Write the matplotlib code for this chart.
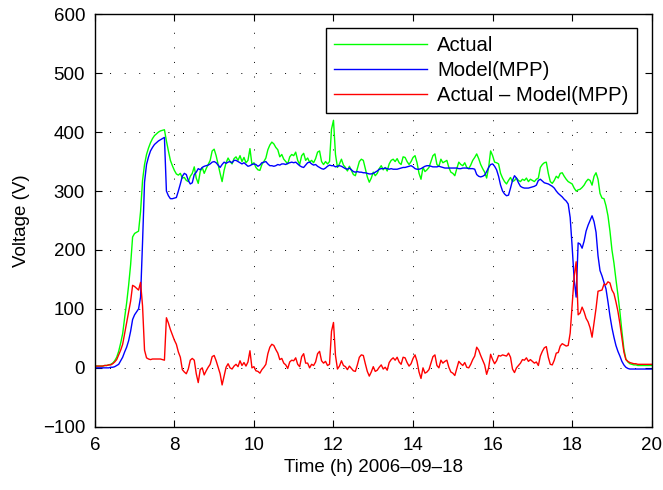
import numpy as np
import matplotlib
matplotlib.use("Agg")
import matplotlib.pyplot as plt

# time axis: 6:00 to 20:00 in 0.05 h steps
t_start, t_end, t_step = 6.0, 20.0, 0.05

# measured array voltage (V), one row per hour
actual = [
    # 6
    3, 3, 3, 3, 3, 4, 4, 5, 6, 8, 12, 18, 28, 42, 58, 85, 110, 140, 175, 222,
    # 7
    228, 230, 232, 265, 318, 345, 362, 373, 382, 389, 394, 397, 400, 402, 403, 404, 385, 368, 352, 343,
    # 8
    335, 329, 327, 330, 322, 323, 318, 316, 325, 330, 341, 322, 313, 333, 340, 330, 338, 345, 352, 368,
    # 9
    371, 360, 345, 330, 316, 335, 348, 356, 350, 346, 355, 358, 352, 360, 350, 357, 348, 352, 372, 345,
    # 10
    348, 340, 336, 335, 345, 350, 356, 370, 378, 383, 380, 374, 370, 358, 362, 354, 350, 346, 358, 362,
    # 11
    360, 366, 352, 345, 360, 364, 352, 356, 349, 352, 348, 355, 366, 368, 350, 345, 350, 346, 350, 405,
    # 12
    420, 362, 340, 346, 354, 344, 340, 334, 342, 335, 328, 326, 338, 350, 354, 352, 338, 324, 315, 322,
    # 13
    332, 326, 330, 338, 343, 336, 340, 334, 346, 352, 354, 350, 355, 348, 345, 358, 357, 350, 345, 350,
    # 14
    357, 360, 348, 330, 320, 340, 333, 336, 340, 350, 360, 363, 345, 342, 354, 348, 350, 352, 340, 332,
    # 15
    330, 326, 338, 349, 345, 343, 348, 340, 338, 344, 352, 357, 363, 355, 345, 338, 332, 322, 340, 368,
    # 16
    360, 349, 348, 346, 330, 322, 316, 312, 318, 323, 316, 318, 322, 318, 316, 320, 318, 322, 316, 320,
    # 17
    318, 316, 320, 322, 340, 345, 348, 349, 330, 316, 313, 318, 325, 322, 330, 331, 325, 320, 316, 314,
    # 18
    312, 305, 300, 302, 303, 306, 310, 316, 320, 318, 310, 325, 331, 320, 296, 288, 287, 275, 258, 232,
    # 19
    200, 178, 150, 124, 95, 62, 32, 15, 10, 7, 6, 5, 5, 4, 4, 4, 4, 4, 4, 4,
    # 20
    4,
]

# model voltage at maximum power point (V)
model = [
    # 6
    0, 0, 0, 0, 0, 0, 0, 0, 1, 1, 2, 4, 6, 12, 18, 27, 35, 46, 62, 82,
    # 7
    90, 95, 100, 120, 213, 315, 345, 358, 368, 374, 379, 382, 385, 387, 389, 391, 300, 292, 287, 287,
    # 8
    288, 289, 300, 312, 325, 330, 328, 318, 312, 314, 328, 332, 338, 336, 340, 342, 343, 344, 346, 349,
    # 9
    350, 348, 344, 340, 345, 349, 347, 349, 350, 348, 352, 352, 350, 348, 346, 348, 345, 342, 343, 345,
    # 10
    346, 345, 342, 344, 348, 349, 350, 346, 343, 343, 342, 343, 345, 344, 346, 346, 345, 347, 348, 349,
    # 11
    348, 349, 346, 343, 341, 340, 344, 348, 349, 346, 344, 345, 342, 340, 338, 337, 339, 342, 344, 343,
    # 12
    343, 341, 342, 343, 342, 340, 338, 337, 339, 336, 333, 332, 333, 332, 332, 331, 331, 330, 329, 329,
    # 13
    330, 332, 334, 337, 338, 338, 339, 338, 337, 338, 337, 337, 337, 338, 339, 340, 340, 341, 342, 343,
    # 14
    341, 338, 337, 337, 338, 340, 342, 343, 343, 342, 341, 341, 341, 342, 341, 340, 339, 339, 339, 339,
    # 15
    339, 339, 339, 338, 338, 339, 339, 339, 338, 338, 338, 337, 328, 325, 324, 325, 327, 333, 340, 345,
    # 16
    346, 342, 336, 325, 310, 300, 295, 292, 293, 305, 318, 326, 322, 314, 308, 306, 305, 305, 305, 306,
    # 17
    307, 308, 310, 318, 320, 317, 314, 313, 312, 310, 308, 305, 300, 296, 293, 290, 286, 283, 278, 255,
    # 18
    205, 150, 120, 212, 210, 203, 215, 232, 242, 250, 258, 248, 230, 190, 165, 156, 145, 134, 112, 88,
    # 19
    68, 52, 38, 28, 20, 11, 5, 1, -1, -2, -2, -2, -2, -2, -2, -2, -2, -2, -2, -2,
    # 20
    -2,
]

x_ticks = [6, 8, 10, 12, 14, 16, 18, 20]
y_ticks = [-100, 0, 100, 200, 300, 400, 500, 600]
labels = ["Actual", "Model(MPP)", "Actual \u2013 Model(MPP)"]

time = np.arange(len(actual)) * t_step + t_start
actual = np.array(actual, dtype=float)
model = np.array(model, dtype=float)
diff = actual - model

plt.rcParams["font.family"] = ["Liberation Sans", "DejaVu Sans"]
plt.rcParams["font.size"] = 13.5

fig = plt.figure(figsize=(6.63, 4.90), dpi=100)
ax = fig.add_axes([0.143, 0.129, 0.840, 0.842])

ax.plot(time, actual, color=(0, 1, 0), lw=1.0, label=labels[0])
ax.plot(time, model, color=(0, 0, 1), lw=1.0, label=labels[1])
ax.plot(time, diff, color=(1, 0, 0), lw=1.0, label=labels[2])

ax.set_xlim(t_start, t_end)
ax.set_ylim(-100, 600)
ax.set_xticks(x_ticks)
ax.set_yticks(y_ticks)
ax.grid(True, color="black", linestyle=(0, (1, 14)), linewidth=0.7)
ax.tick_params(direction="in", length=5, width=0.8, top=True, right=True, pad=7)
for sp in ax.spines.values():
    sp.set_linewidth(1.0)

ax.set_xlabel("Time (h) 2006\u201309\u201318", labelpad=4)
ax.set_ylabel("Voltage (V)", labelpad=9)

leg = ax.legend(loc="upper right", bbox_to_anchor=(0.973, 0.966), fancybox=False,
                edgecolor="black", framealpha=1, fontsize=14.6, handlelength=4.6,
                handletextpad=0.5, borderpad=0.4, labelspacing=0.28, borderaxespad=0)
leg.get_frame().set_linewidth(1.0)

fig.savefig("out.png", dpi=100)
